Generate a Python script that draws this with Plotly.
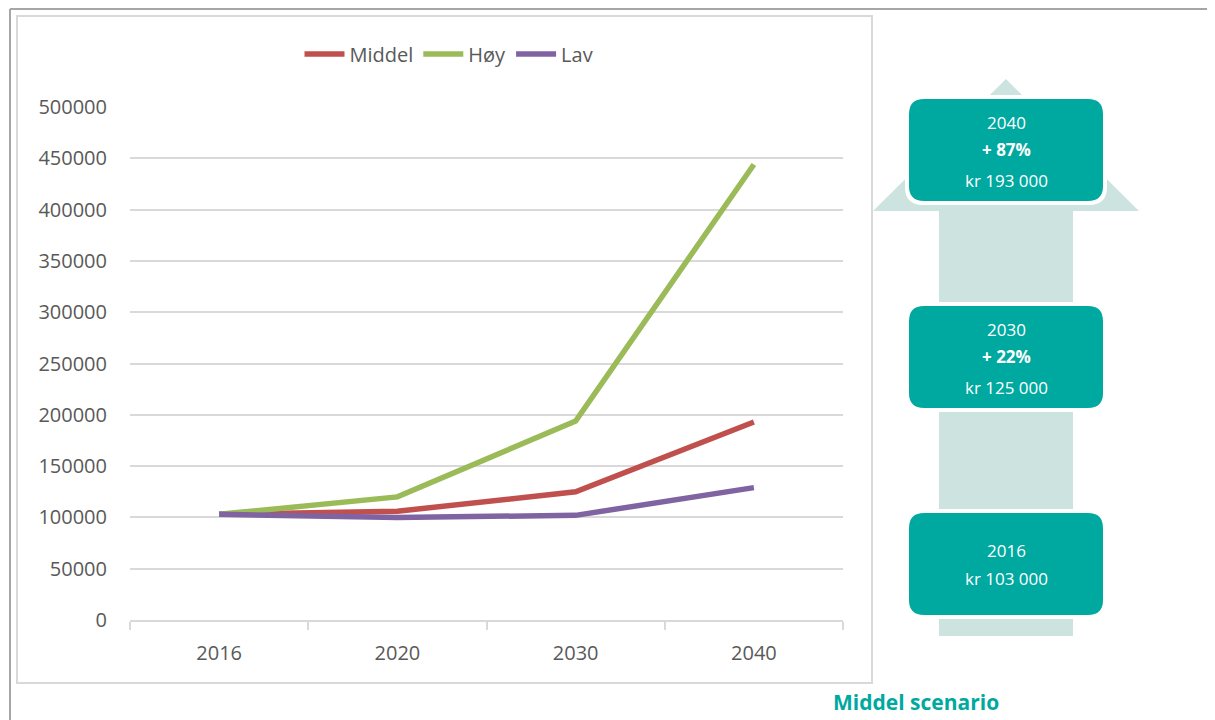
import plotly.graph_objects as go

years = ["2016", "2020", "2030", "2040"]
middel = [103000, 106000, 125000, 193000]
hoy = [103000, 120000, 194000, 444000]
lav = [103000, 100000, 102000, 129000]
series_names = ["Middel", "Høy", "Lav"]
series_colors = ["#C0504D", "#9BBB59", "#8064A2"]
y_ticks = [0, 50000, 100000, 150000, 200000, 250000, 300000, 350000, 400000, 450000, 500000]

box_years = ["2040", "2030", "2016"]
box_pct = ["+ 87%", "+ 22%", ""]
box_vals = ["kr 193 000", "kr 125 000", "kr 103 000"]

OFF = 8  # page body margin
W, H = 1215 - OFF, 720 - OFF
L, T = 130 - OFF, 107 - OFF
R = W - (843 - OFF)
B = H - (620 - OFF)
PW, PH = W - L - R, H - T - B


def px(x):
    return (x - OFF - L) / PW


def py(y):
    return (H - B - (y - OFF)) / PH


fig = go.Figure()
for name, vals, col in zip(series_names, [middel, hoy, lav], series_colors):
    fig.add_trace(go.Scatter(x=years, y=vals, mode="lines", name=name,
                             line=dict(color=col, width=5.5)))

shapes = []
shapes.append(dict(type="line", xref="paper", yref="paper", x0=px(10), x1=px(1215), y0=py(9), y1=py(9),
                   line=dict(color="#A6A6A6", width=2)))
shapes.append(dict(type="line", xref="paper", yref="paper", x0=px(10), x1=px(10), y0=py(9), y1=py(720),
                   line=dict(color="#A6A6A6", width=2)))
shapes.append(dict(type="rect", xref="paper", yref="paper", x0=px(17), x1=px(872), y0=py(16), y1=py(683),
                   line=dict(color="#D9D9D9", width=2), layer="below"))

arrow_col = "#CDE3E0"
pts = [(1006, 79), (1139, 211), (1073, 211), (1073, 636), (939, 636), (939, 211), (873, 211)]
arrow_path = "M " + " L ".join("{:.5f},{:.5f}".format(px(a), py(b)) for a, b in pts) + " Z"
shapes.append(dict(type="path", xref="paper", yref="paper", path=arrow_path,
                   fillcolor=arrow_col, line=dict(width=0)))


def rounded(x0, y0, x1, y1, r):
    p = [
        ("M", x0 + r, y0), ("L", x1 - r, y0), ("Q", x1, y0, x1, y0 + r),
        ("L", x1, y1 - r), ("Q", x1, y1, x1 - r, y1), ("L", x0 + r, y1),
        ("Q", x0, y1, x0, y1 - r), ("L", x0, y0 + r), ("Q", x0, y0, x0 + r, y0)
    ]
    s = []
    for seg in p:
        cmd = seg[0]
        coords = seg[1:]
        parts = []
        for i in range(0, len(coords), 2):
            parts.append("{:.5f},{:.5f}".format(px(coords[i]), py(coords[i + 1])))
        s.append(cmd + " " + " ".join(parts))
    return " ".join(s) + " Z"


box_tops = [99, 306, 513]
annotations = []
for i, top in enumerate(box_tops):
    shapes.append(dict(type="path", xref="paper", yref="paper",
                       path=rounded(905, top - 4, 1107, top + 106, 18),
                       fillcolor="white", line=dict(width=0)))
    shapes.append(dict(type="path", xref="paper", yref="paper",
                       path=rounded(909, top, 1103, top + 102, 15),
                       fillcolor="#00A99F", line=dict(width=0)))
    cx = px(1006)
    if box_pct[i]:
        lines = [(box_years[i], False, top + 23), (box_pct[i], True, top + 50), (box_vals[i], False, top + 81)]
    else:
        lines = [(box_years[i], False, top + 37), (box_vals[i], False, top + 65)]
    for txt, bold, yy in lines:
        annotations.append(dict(xref="paper", yref="paper", x=cx, y=py(yy),
                                text=("<b>%s</b>" % txt) if bold else txt,
                                showarrow=False, xanchor="center", yanchor="middle",
                                font=dict(family="Open Sans", size=17, color="white")))

annotations.append(dict(xref="paper", yref="paper", x=px(916), y=py(702), text="<b>Middel scenario</b>",
                        showarrow=False, xanchor="center", yanchor="middle",
                        font=dict(family="Open Sans", size=21, color="#00A99F")))

fig.update_layout(
    width=W, height=H,
    margin=dict(l=L, r=R, t=T, b=B),
    paper_bgcolor="white", plot_bgcolor="white",
    font=dict(family="Open Sans", size=20, color="#595959"),
    showlegend=True,
    legend=dict(orientation="h", x=px(449), y=py(54), xanchor="center", yanchor="middle",
                font=dict(size=20, color="#595959"), itemwidth=40, tracegroupgap=0),
    shapes=shapes,
    annotations=annotations,
    xaxis=dict(type="category", range=[-0.5, 3.5], showgrid=False, showline=True, linecolor="#D9D9D9",
               linewidth=2, ticks="outside", tickson="boundaries", ticklen=8, tickcolor="#D9D9D9",
               tickwidth=2, ticklabelstandoff=14, tickfont=dict(size=20, color="#595959")),
    yaxis=dict(range=[0, 500000], tickvals=y_ticks, ticktext=[str(v) for v in y_ticks],
               showgrid=True, gridcolor="#D9D9D9", gridwidth=2, zeroline=False, showline=False,
               ticks="", ticklabelstandoff=22, tickfont=dict(size=20, color="#595959")),
)

fig.write_html("out.html")
